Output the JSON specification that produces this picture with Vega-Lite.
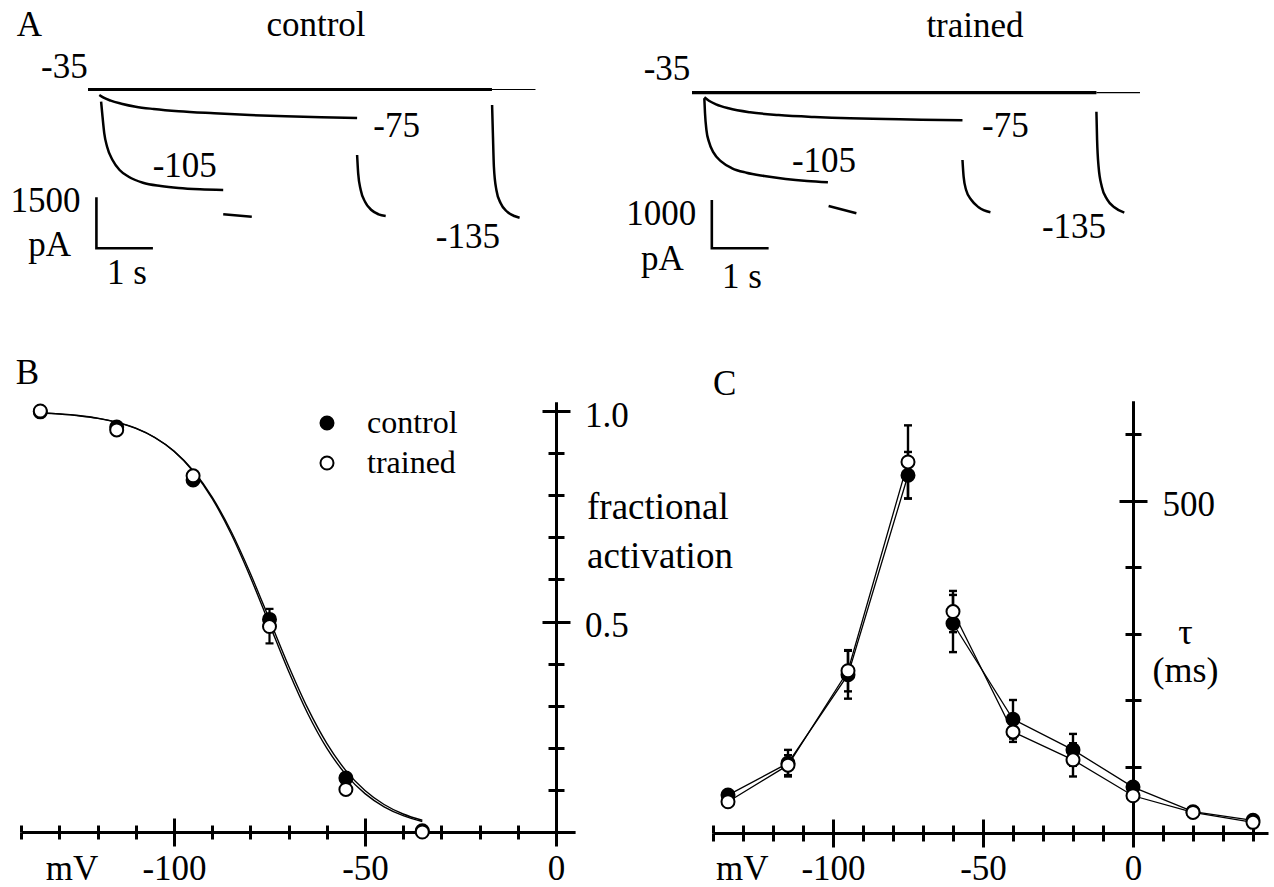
{
"$schema":"https://vega.github.io/schema/vega-lite/v6.json",
"width":1274,"height":887,"autosize":{"type":"none"},"padding":0,"background":"white",
"config":{"view":{"stroke":null},
"axis":{"grid":false,"domainColor":"black","domainWidth":3,"tickColor":"black","tickWidth":3,"labelFont":"Liberation Serif","labelFontSize":35,"labelColor":"black","titleFont":"Liberation Serif","titleFontSize":35,"titleFontWeight":"normal","titleColor":"black","labelOverlap":false,"labelFlush":false,"labelBound":false},
"legend":{"labelFont":"Liberation Serif","labelFontSize":32,"labelColor":"black"}},
"datasets":{
"a1_lines":[
{"kind":"holding","trace":"hold","t":0,"I":0},{"kind":"holding","trace":"hold","t":7.15,"I":0},
{"kind":"thin","trace":"end","t":7.15,"I":0},{"kind":"thin","trace":"end","t":7.92,"I":0},
{"kind":"current","trace":"step -75","t":0.2,"I":-162},{"kind":"current","trace":"step -75","t":0.276,"I":-241},{"kind":"current","trace":"step -75","t":0.402,"I":-329},{"kind":"current","trace":"step -75","t":0.591,"I":-417},{"kind":"current","trace":"step -75","t":0.844,"I":-506},{"kind":"current","trace":"step -75","t":1.161,"I":-573},{"kind":"current","trace":"step -75","t":1.604,"I":-641},{"kind":"current","trace":"step -75","t":2.235,"I":-700},{"kind":"current","trace":"step -75","t":2.867,"I":-750},{"kind":"current","trace":"step -75","t":3.499,"I":-788},{"kind":"current","trace":"step -75","t":4.131,"I":-817},{"kind":"current","trace":"step -75","t":4.763,"I":-838},
{"kind":"current","trace":"step -105","t":0.232,"I":-359},{"kind":"current","trace":"step -105","t":0.257,"I":-800},{"kind":"current","trace":"step -105","t":0.288,"I":-1288},{"kind":"current","trace":"step -105","t":0.338,"I":-1682},{"kind":"current","trace":"step -105","t":0.434,"I":-2073},{"kind":"current","trace":"step -105","t":0.559,"I":-2367},{"kind":"current","trace":"step -105","t":0.719,"I":-2564},{"kind":"current","trace":"step -105","t":0.972,"I":-2740},{"kind":"current","trace":"step -105","t":1.287,"I":-2837},{"kind":"current","trace":"step -105","t":1.604,"I":-2896},{"kind":"current","trace":"step -105","t":1.982,"I":-2934},{"kind":"current","trace":"step -105","t":2.393,"I":-2955},
{"kind":"current","trace":"tail -105","t":2.393,"I":-3669},{"kind":"current","trace":"tail -105","t":2.899,"I":-3740},
{"kind":"current","trace":"tail -75","t":4.763,"I":-1926},{"kind":"current","trace":"tail -75","t":4.782,"I":-2464},{"kind":"current","trace":"tail -75","t":4.827,"I":-2955},{"kind":"current","trace":"tail -75","t":4.903,"I":-3299},{"kind":"current","trace":"tail -75","t":5.016,"I":-3543},{"kind":"current","trace":"tail -75","t":5.143,"I":-3669},{"kind":"current","trace":"tail -75","t":5.269,"I":-3719},
{"kind":"current","trace":"tail -135","t":7.152,"I":-456},{"kind":"current","trace":"tail -135","t":7.166,"I":-1288},{"kind":"current","trace":"tail -135","t":7.184,"I":-2270},{"kind":"current","trace":"tail -135","t":7.228,"I":-2955},{"kind":"current","trace":"tail -135","t":7.304,"I":-3346},{"kind":"current","trace":"tail -135","t":7.418,"I":-3593},{"kind":"current","trace":"tail -135","t":7.545,"I":-3719},{"kind":"current","trace":"tail -135","t":7.639,"I":-3769}
],
"a1_bar":[{"k":0,"t":0.149,"I":-3169},{"k":1,"t":0.149,"I":-4669},{"k":2,"t":1.149,"I":-4669}],
"a1_text":[{"label":"A","t":-1.039,"I":1573},{"label":"control","t":4.035,"I":1573},{"label":"-35","t":-0.419,"I":329},{"label":"-75","t":5.462,"I":-1388},{"label":"-105","t":1.713,"I":-2564},{"label":"1500","t":-0.752,"I":-3593},{"label":"pA","t":-0.68,"I":-4904},{"label":"1 s","t":0.687,"I":-5727},{"label":"-135","t":6.724,"I":-4669}],
"a2_lines":[
{"kind":"holding","trace":"hold","t":0,"I":0},{"kind":"holding","trace":"hold","t":7.12,"I":0},
{"kind":"thin","trace":"end","t":7.12,"I":0},{"kind":"thin","trace":"end","t":7.887,"I":0},
{"kind":"current","trace":"step -75","t":0.217,"I":-95},{"kind":"current","trace":"step -75","t":0.298,"I":-166},{"kind":"current","trace":"step -75","t":0.424,"I":-240},{"kind":"current","trace":"step -75","t":0.644,"I":-323},{"kind":"current","trace":"step -75","t":1.021,"I":-406},{"kind":"current","trace":"step -75","t":1.525,"I":-462},{"kind":"current","trace":"step -75","t":2.153,"I":-503},{"kind":"current","trace":"step -75","t":2.782,"I":-530},{"kind":"current","trace":"step -75","t":3.41,"I":-544},{"kind":"current","trace":"step -75","t":4.039,"I":-559},{"kind":"current","trace":"step -75","t":4.762,"I":-571},
{"kind":"current","trace":"step -105","t":0.217,"I":-116},{"kind":"current","trace":"step -105","t":0.229,"I":-426},{"kind":"current","trace":"step -105","t":0.254,"I":-772},{"kind":"current","trace":"step -105","t":0.298,"I":-1014},{"kind":"current","trace":"step -105","t":0.38,"I":-1242},{"kind":"current","trace":"step -105","t":0.518,"I":-1428},{"kind":"current","trace":"step -105","t":0.706,"I":-1565},{"kind":"current","trace":"step -105","t":0.958,"I":-1656},{"kind":"current","trace":"step -105","t":1.273,"I":-1724},{"kind":"current","trace":"step -105","t":1.65,"I":-1786},{"kind":"current","trace":"step -105","t":2.026,"I":-1828},{"kind":"current","trace":"step -105","t":2.393,"I":-1855},
{"kind":"current","trace":"tail -105","t":2.405,"I":-2345},{"kind":"current","trace":"tail -105","t":2.894,"I":-2496},
{"kind":"current","trace":"tail -75","t":4.762,"I":-1393},{"kind":"current","trace":"tail -75","t":4.782,"I":-1739},{"kind":"current","trace":"tail -75","t":4.826,"I":-2014},{"kind":"current","trace":"tail -75","t":4.919,"I":-2221},{"kind":"current","trace":"tail -75","t":5.046,"I":-2372},{"kind":"current","trace":"tail -75","t":5.254,"I":-2476},
{"kind":"current","trace":"tail -135","t":7.12,"I":-393},{"kind":"current","trace":"tail -135","t":7.132,"I":-979},{"kind":"current","trace":"tail -135","t":7.158,"I":-1532},{"kind":"current","trace":"tail -135","t":7.215,"I":-1946},{"kind":"current","trace":"tail -135","t":7.308,"I":-2207},{"kind":"current","trace":"tail -135","t":7.435,"I":-2372},{"kind":"current","trace":"tail -135","t":7.611,"I":-2484}
],
"a2_bar":[{"k":0,"t":0.349,"I":-2221},{"k":1,"t":0.349,"I":-3221},{"k":2,"t":1.349,"I":-3221}],
"a2_text":[{"label":"trained","t":4.982,"I":1159},{"label":"-35","t":-0.44,"I":263},{"label":"-75","t":5.516,"I":-911},{"label":"-105","t":2.324,"I":-1635},{"label":"1000","t":-0.54,"I":-2739},{"label":"pA","t":-0.52,"I":-3660},{"label":"1 s","t":0.88,"I":-4040},{"label":"-135","t":6.725,"I":-3014}],
"b_curve":[
{"g":"control","V":-135,"f":0.9954},{"g":"control","V":-130,"f":0.9928},{"g":"control","V":-125,"f":0.9888},{"g":"control","V":-120,"f":0.9826},{"g":"control","V":-115,"f":0.9731},{"g":"control","V":-110,"f":0.9586},{"g":"control","V":-105,"f":0.9368},{"g":"control","V":-100,"f":0.9047},{"g":"control","V":-95,"f":0.8586},{"g":"control","V":-90,"f":0.7953},{"g":"control","V":-85,"f":0.7132},{"g":"control","V":-80,"f":0.614},{"g":"control","V":-75,"f":0.5045},{"g":"control","V":-70,"f":0.3945},{"g":"control","V":-65,"f":0.2942},{"g":"control","V":-60,"f":0.2106},{"g":"control","V":-55,"f":0.1458},{"g":"control","V":-50,"f":0.0985},{"g":"control","V":-45,"f":0.0653},{"g":"control","V":-40,"f":0.0428},{"g":"control","V":-35,"f":0.0278},
{"g":"trained","V":-135,"f":0.9956},{"g":"trained","V":-130,"f":0.9931},{"g":"trained","V":-125,"f":0.9892},{"g":"trained","V":-120,"f":0.9831},{"g":"trained","V":-115,"f":0.9736},{"g":"trained","V":-110,"f":0.9591},{"g":"trained","V":-105,"f":0.937},{"g":"trained","V":-100,"f":0.9043},{"g":"trained","V":-95,"f":0.857},{"g":"trained","V":-90,"f":0.7919},{"g":"trained","V":-85,"f":0.7072},{"g":"trained","V":-80,"f":0.6052},{"g":"trained","V":-75,"f":0.4932},{"g":"trained","V":-70,"f":0.3818},{"g":"trained","V":-65,"f":0.2816},{"g":"trained","V":-60,"f":0.1993},{"g":"trained","V":-55,"f":0.1364},{"g":"trained","V":-50,"f":0.0911},{"g":"trained","V":-45,"f":0.0598},{"g":"trained","V":-40,"f":0.0388},{"g":"trained","V":-35,"f":0.025}
],
"b_pts":[
{"g":"control","V":-135,"f":0.998},{"g":"control","V":-115,"f":0.962},{"g":"control","V":-95,"f":0.836},{"g":"control","V":-75,"f":0.505,"lo":0.448,"hi":0.53},{"g":"control","V":-55,"f":0.128},{"g":"control","V":-35,"f":0.003},
{"g":"trained","V":-135,"f":1.0},{"g":"trained","V":-115,"f":0.955},{"g":"trained","V":-95,"f":0.846},{"g":"trained","V":-75,"f":0.488},{"g":"trained","V":-55,"f":0.101},{"g":"trained","V":-35,"f":0.0}
],
"b_text":[{"label":"B","V":-138.4,"f":1.0641}],
"c_pts":[
{"g":"control","seg":"activation","V":-135,"tau":57},
{"g":"control","seg":"activation","V":-115,"tau":105,"lo":85,"hi":125},
{"g":"control","seg":"activation","V":-95,"tau":238,"lo":202,"hi":274},
{"g":"control","seg":"activation","V":-75,"tau":538,"lo":503,"hi":573},
{"g":"control","seg":"deactivation","V":-60,"tau":315,"lo":272,"hi":358},
{"g":"control","seg":"deactivation","V":-40,"tau":171,"lo":142,"hi":200},
{"g":"control","seg":"deactivation","V":-20,"tau":125,"lo":101,"hi":149},
{"g":"control","seg":"deactivation","V":0,"tau":69},
{"g":"control","seg":"deactivation","V":20,"tau":32},
{"g":"control","seg":"deactivation","V":40,"tau":19},
{"g":"trained","seg":"activation","V":-135,"tau":47},
{"g":"trained","seg":"activation","V":-115,"tau":102,"lo":87,"hi":117},
{"g":"trained","seg":"activation","V":-95,"tau":244,"lo":213,"hi":275},
{"g":"trained","seg":"activation","V":-75,"tau":558,"lo":503,"hi":613},
{"g":"trained","seg":"deactivation","V":-60,"tau":333,"lo":302,"hi":364},
{"g":"trained","seg":"deactivation","V":-40,"tau":152,"lo":137,"hi":167},
{"g":"trained","seg":"deactivation","V":-20,"tau":110,"lo":85,"hi":135},
{"g":"trained","seg":"deactivation","V":0,"tau":56},
{"g":"trained","seg":"deactivation","V":20,"tau":31},
{"g":"trained","seg":"deactivation","V":40,"tau":16}
],
"c_text":[{"label":"C","V":-136.1,"tau":658.6}]
},
"resolve":{"scale":{"x":"independent","y":"independent"},"axis":{"x":"independent","y":"independent"}},
"layer":[
{"layer":[
{"data":{"name":"a1_lines"},"transform":[{"filter":"datum.kind === 'holding'"}],"mark":{"type":"line","color":"black","strokeWidth":3.2},
 "encoding":{"x":{"field":"t","type":"quantitative","scale":{"domain":[0,8],"range":[88,540],"zero":false,"nice":false},"axis":null},"y":{"field":"I","type":"quantitative","scale":{"domain":[-4000,0],"range":[225.55,89.5],"zero":false,"nice":false},"axis":null}}},
{"data":{"name":"a1_lines"},"transform":[{"filter":"datum.kind === 'thin'"}],"mark":{"type":"line","color":"black","strokeWidth":1.2},
 "encoding":{"x":{"field":"t","type":"quantitative","scale":{"domain":[0,8],"range":[88,540],"zero":false,"nice":false},"axis":null},"y":{"field":"I","type":"quantitative","scale":{"domain":[-4000,0],"range":[225.55,89.5],"zero":false,"nice":false},"axis":null}}},
{"data":{"name":"a1_lines"},"transform":[{"filter":"datum.kind === 'current'"}],"mark":{"type":"line","color":"black","strokeWidth":2.5,"interpolate":"monotone"},
 "encoding":{"x":{"field":"t","type":"quantitative","scale":{"domain":[0,8],"range":[88,540],"zero":false,"nice":false},"axis":null},"y":{"field":"I","type":"quantitative","scale":{"domain":[-4000,0],"range":[225.55,89.5],"zero":false,"nice":false},"axis":null},"detail":{"field":"trace"}}},
{"data":{"name":"a1_bar"},"mark":{"type":"line","color":"black","strokeWidth":2.6},
 "encoding":{"x":{"field":"t","type":"quantitative","scale":{"domain":[0,8],"range":[88,540],"zero":false,"nice":false},"axis":null},"y":{"field":"I","type":"quantitative","scale":{"domain":[-4000,0],"range":[225.55,89.5],"zero":false,"nice":false},"axis":null},"order":{"field":"k"}}},
{"data":{"name":"a1_text"},"mark":{"type":"text","font":"Liberation Serif","fontSize":35,"align":"center","baseline":"alphabetic","color":"black"},
 "encoding":{"x":{"field":"t","type":"quantitative","scale":{"domain":[0,8],"range":[88,540],"zero":false,"nice":false},"axis":null},"y":{"field":"I","type":"quantitative","scale":{"domain":[-4000,0],"range":[225.55,89.5],"zero":false,"nice":false},"axis":null},"text":{"field":"label"}}}
]},
{"layer":[
{"data":{"name":"a2_lines"},"transform":[{"filter":"datum.kind === 'holding'"}],"mark":{"type":"line","color":"black","strokeWidth":3.2},
 "encoding":{"x":{"field":"t","type":"quantitative","scale":{"domain":[0,8],"range":[692,1146.4],"zero":false,"nice":false},"axis":null},"y":{"field":"I","type":"quantitative","scale":{"domain":[-3000,0],"range":[237.63,92.7],"zero":false,"nice":false},"axis":null}}},
{"data":{"name":"a2_lines"},"transform":[{"filter":"datum.kind === 'thin'"}],"mark":{"type":"line","color":"black","strokeWidth":1.2},
 "encoding":{"x":{"field":"t","type":"quantitative","scale":{"domain":[0,8],"range":[692,1146.4],"zero":false,"nice":false},"axis":null},"y":{"field":"I","type":"quantitative","scale":{"domain":[-3000,0],"range":[237.63,92.7],"zero":false,"nice":false},"axis":null}}},
{"data":{"name":"a2_lines"},"transform":[{"filter":"datum.kind === 'current'"}],"mark":{"type":"line","color":"black","strokeWidth":2.5,"interpolate":"monotone"},
 "encoding":{"x":{"field":"t","type":"quantitative","scale":{"domain":[0,8],"range":[692,1146.4],"zero":false,"nice":false},"axis":null},"y":{"field":"I","type":"quantitative","scale":{"domain":[-3000,0],"range":[237.63,92.7],"zero":false,"nice":false},"axis":null},"detail":{"field":"trace"}}},
{"data":{"name":"a2_bar"},"mark":{"type":"line","color":"black","strokeWidth":2.6},
 "encoding":{"x":{"field":"t","type":"quantitative","scale":{"domain":[0,8],"range":[692,1146.4],"zero":false,"nice":false},"axis":null},"y":{"field":"I","type":"quantitative","scale":{"domain":[-3000,0],"range":[237.63,92.7],"zero":false,"nice":false},"axis":null},"order":{"field":"k"}}},
{"data":{"name":"a2_text"},"mark":{"type":"text","font":"Liberation Serif","fontSize":35,"align":"center","baseline":"alphabetic","color":"black"},
 "encoding":{"x":{"field":"t","type":"quantitative","scale":{"domain":[0,8],"range":[692,1146.4],"zero":false,"nice":false},"axis":null},"y":{"field":"I","type":"quantitative","scale":{"domain":[-3000,0],"range":[237.63,92.7],"zero":false,"nice":false},"axis":null},"text":{"field":"label"}}}
]},
{"resolve":{"axis":{"x":"independent","y":"independent"}},
"layer":[
{"data":{"name":"b_curve"},"mark":{"type":"line","color":"black","strokeWidth":1.4,"interpolate":"monotone"},
 "encoding":{
  "x":{"field":"V","type":"quantitative","scale":{"domain":[-140,5],"range":[21.2,575.1],"zero":false,"nice":false},
   "axis":{"orient":"bottom","offset":-55,"values":[-100,-50,0],"tickSize":14,"labelExpr":"'' + datum.value","labelBaseline":"alphabetic","labelPadding":33,"title":"mV","titleX":71.5,"titleY":47,"titleAlign":"center","titleBaseline":"alphabetic","titleAngle":0}},
  "y":{"field":"f","type":"quantitative","scale":{"domain":[0,1.022],"range":[832,401.74],"zero":false,"nice":false},
   "axis":{"orient":"right","offset":-718,"values":[0.5,1],"tickSize":14,"labelExpr":"format(datum.value, '.1f')","labelAlign":"left","labelBaseline":"alphabetic","labelOffset":15,"labelPadding":14.5,"title":["fractional","activation"],"titleFontSize":37,"titleAngle":0,"titleX":30.5,"titleY":518,"titleAlign":"left","titleBaseline":"alphabetic","titleLineHeight":49}},
  "detail":{"field":"g"}}},
{"data":{"name":"b_pts"},"transform":[{"filter":"isValid(datum.lo)"}],"mark":{"type":"rule","color":"black","strokeWidth":2.2},
 "encoding":{
  "x":{"field":"V","type":"quantitative","scale":{"domain":[-140,5],"range":[21.2,575.1],"zero":false,"nice":false},
   "axis":{"orient":"bottom","offset":-55,"values":[-100,-50,0],"tickSize":-14,"labels":false,"domain":false,"title":null}},
  "y":{"field":"lo","type":"quantitative","scale":{"domain":[0,1.022],"range":[832,401.74],"zero":false,"nice":false},
   "axis":{"orient":"right","offset":-718,"values":[0.5,1],"tickSize":-14,"labels":false,"domain":false,"title":null}},
  "y2":{"field":"hi"}}},
{"data":{"name":"b_pts"},"transform":[{"filter":"isValid(datum.lo)"}],"mark":{"type":"tick","orient":"horizontal","color":"black","size":8,"thickness":2.2,"opacity":1},
 "encoding":{
  "x":{"field":"V","type":"quantitative","scale":{"domain":[-140,5],"range":[21.2,575.1],"zero":false,"nice":false},
   "axis":{"orient":"bottom","offset":-55,"values":[-140,-130,-120,-110,-90,-80,-70,-60,-40,-30,-20,-10],"tickSize":7,"labels":false,"domain":false,"title":null}},
  "y":{"field":"lo","type":"quantitative","scale":{"domain":[0,1.022],"range":[832,401.74],"zero":false,"nice":false},
   "axis":{"orient":"right","offset":-718,"values":[0.1,0.2,0.3,0.4,0.6,0.7,0.8,0.9],"tickSize":8,"labels":false,"domain":false,"title":null}}}},
{"data":{"name":"b_pts"},"transform":[{"filter":"isValid(datum.hi)"}],"mark":{"type":"tick","orient":"horizontal","color":"black","size":8,"thickness":2.2,"opacity":1},
 "encoding":{
  "x":{"field":"V","type":"quantitative","scale":{"domain":[-140,5],"range":[21.2,575.1],"zero":false,"nice":false},
   "axis":{"orient":"bottom","offset":-55,"values":[-140,-130,-120,-110,-90,-80,-70,-60,-40,-30,-20,-10],"tickSize":-7,"labels":false,"domain":false,"title":null}},
  "y":{"field":"hi","type":"quantitative","scale":{"domain":[0,1.022],"range":[832,401.74],"zero":false,"nice":false},
   "axis":{"orient":"right","offset":-718,"values":[0.1,0.2,0.3,0.4,0.6,0.7,0.8,0.9],"tickSize":-8,"labels":false,"domain":false,"title":null}}}},
{"data":{"name":"b_pts"},"mark":{"type":"point","shape":"circle","filled":true,"size":169,"stroke":"black","strokeWidth":2,"opacity":1},
 "encoding":{
  "x":{"field":"V","type":"quantitative","scale":{"domain":[-140,5],"range":[21.2,575.1],"zero":false,"nice":false},"axis":null},
  "y":{"field":"f","type":"quantitative","scale":{"domain":[0,1.022],"range":[832,401.74],"zero":false,"nice":false},"axis":null},
  "fill":{"field":"g","type":"nominal","scale":{"domain":["control","trained"],"range":["black","white"]},
   "legend":{"orient":"none","legendX":311,"legendY":407,"title":null,"symbolType":"circle","symbolSize":169,"symbolStrokeColor":"black","symbolStrokeWidth":2,"symbolOpacity":1,"labelOffset":24,"rowPadding":8,"padding":0}}}},
{"data":{"name":"b_text"},"mark":{"type":"text","font":"Liberation Serif","fontSize":35,"align":"center","baseline":"alphabetic","color":"black"},
 "encoding":{
  "x":{"field":"V","type":"quantitative","scale":{"domain":[-140,5],"range":[21.2,575.1],"zero":false,"nice":false},"axis":null},
  "y":{"field":"f","type":"quantitative","scale":{"domain":[0,1.022],"range":[832,401.74],"zero":false,"nice":false},"axis":null},
  "text":{"field":"label"}}}
]},
{"resolve":{"axis":{"x":"independent","y":"independent"}},
"layer":[
{"data":{"name":"c_pts"},"mark":{"type":"line","color":"black","strokeWidth":1.3},
 "encoding":{
  "x":{"field":"V","type":"quantitative","scale":{"domain":[-140,45],"range":[713,1268],"zero":false,"nice":false},
   "axis":{"orient":"bottom","offset":-54,"values":[-100,-50,0],"tickSize":14,"labelExpr":"'' + datum.value","labelBaseline":"alphabetic","labelPadding":32,"title":"mV","titleX":741.7,"titleY":46,"titleAlign":"center","titleBaseline":"alphabetic","titleAngle":0}},
  "y":{"field":"tau","type":"quantitative","scale":{"domain":[0,650],"range":[833,400.75],"zero":false,"nice":false},
   "axis":{"orient":"right","offset":-141,"values":[500],"tickSize":14,"labelExpr":"'' + datum.value","labelAlign":"left","labelBaseline":"alphabetic","labelOffset":15,"labelPadding":15,"title":["τ","(ms)"],"titleFontSize":36,"titleAngle":0,"titleX":52,"titleY":643,"titleAlign":"center","titleBaseline":"alphabetic","titleLineHeight":38}},
  "detail":[{"field":"g"},{"field":"seg"}]}},
{"data":{"name":"c_pts"},"transform":[{"filter":"isValid(datum.lo)"}],"mark":{"type":"rule","color":"black","strokeWidth":2.4},
 "encoding":{
  "x":{"field":"V","type":"quantitative","scale":{"domain":[-140,45],"range":[713,1268],"zero":false,"nice":false},
   "axis":{"orient":"bottom","offset":-54,"values":[-100,-50,0],"tickSize":-14,"labels":false,"domain":false,"title":null}},
  "y":{"field":"lo","type":"quantitative","scale":{"domain":[0,650],"range":[833,400.75],"zero":false,"nice":false},
   "axis":{"orient":"right","offset":-141,"values":[500],"tickSize":-14,"labels":false,"domain":false,"title":null}},
  "y2":{"field":"hi"}}},
{"data":{"name":"c_pts"},"transform":[{"filter":"isValid(datum.lo)"}],"mark":{"type":"tick","orient":"horizontal","color":"black","size":8,"thickness":2.4,"opacity":1},
 "encoding":{
  "x":{"field":"V","type":"quantitative","scale":{"domain":[-140,45],"range":[713,1268],"zero":false,"nice":false},
   "axis":{"orient":"bottom","offset":-54,"values":[-140,-130,-120,-110,-90,-80,-70,-60,-40,-30,-20,-10,10,20,30,40],"tickSize":8,"labels":false,"domain":false,"title":null}},
  "y":{"field":"lo","type":"quantitative","scale":{"domain":[0,650],"range":[833,400.75],"zero":false,"nice":false},
   "axis":{"orient":"right","offset":-141,"values":[100,200,300,400,600],"tickSize":8,"labels":false,"domain":false,"title":null}}}},
{"data":{"name":"c_pts"},"transform":[{"filter":"isValid(datum.hi)"}],"mark":{"type":"tick","orient":"horizontal","color":"black","size":8,"thickness":2.4,"opacity":1},
 "encoding":{
  "x":{"field":"V","type":"quantitative","scale":{"domain":[-140,45],"range":[713,1268],"zero":false,"nice":false},
   "axis":{"orient":"bottom","offset":-54,"values":[-140,-130,-120,-110,-90,-80,-70,-60,-40,-30,-20,-10,10,20,30,40],"tickSize":-8,"labels":false,"domain":false,"title":null}},
  "y":{"field":"hi","type":"quantitative","scale":{"domain":[0,650],"range":[833,400.75],"zero":false,"nice":false},
   "axis":{"orient":"right","offset":-141,"values":[100,200,300,400,600],"tickSize":-8,"labels":false,"domain":false,"title":null}}}},
{"data":{"name":"c_pts"},"transform":[{"filter":"datum.g === 'control'"}],"mark":{"type":"point","shape":"circle","filled":true,"fill":"black","size":169,"stroke":"black","strokeWidth":2,"opacity":1},
 "encoding":{
  "x":{"field":"V","type":"quantitative","scale":{"domain":[-140,45],"range":[713,1268],"zero":false,"nice":false},"axis":null},
  "y":{"field":"tau","type":"quantitative","scale":{"domain":[0,650],"range":[833,400.75],"zero":false,"nice":false},"axis":null}}},
{"data":{"name":"c_pts"},"transform":[{"filter":"datum.g === 'trained'"}],"mark":{"type":"point","shape":"circle","filled":true,"fill":"white","size":169,"stroke":"black","strokeWidth":2,"opacity":1},
 "encoding":{
  "x":{"field":"V","type":"quantitative","scale":{"domain":[-140,45],"range":[713,1268],"zero":false,"nice":false},"axis":null},
  "y":{"field":"tau","type":"quantitative","scale":{"domain":[0,650],"range":[833,400.75],"zero":false,"nice":false},"axis":null}}},
{"data":{"name":"c_text"},"mark":{"type":"text","font":"Liberation Serif","fontSize":35,"align":"center","baseline":"alphabetic","color":"black"},
 "encoding":{
  "x":{"field":"V","type":"quantitative","scale":{"domain":[-140,45],"range":[713,1268],"zero":false,"nice":false},"axis":null},
  "y":{"field":"tau","type":"quantitative","scale":{"domain":[0,650],"range":[833,400.75],"zero":false,"nice":false},"axis":null},
  "text":{"field":"label"}}}
]}
]
}
